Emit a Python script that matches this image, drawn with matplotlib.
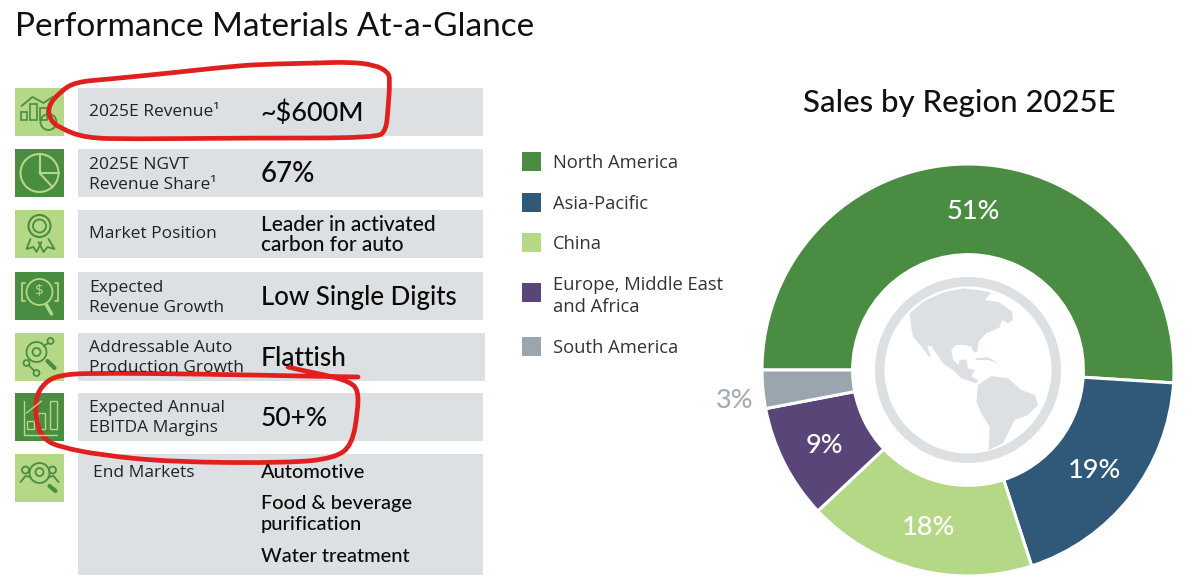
import numpy as np
import matplotlib
matplotlib.use('Agg')
import matplotlib.pyplot as plt
from matplotlib.patches import Rectangle, Circle, Polygon, Wedge, PathPatch
from matplotlib.path import Path

# Donut data
regions = ['North America', 'Asia-Pacific', 'China', 'Europe, Middle East\nand Africa', 'South America']
shares = [51, 19, 18, 9, 3]
colors = ['#4A8D42', '#305878', '#B4D886', '#5A4578', '#9AA5AE']

# Table rows
row_labels = ['2025E Revenue¹', '2025E NGVT\nRevenue Share¹', 'Market Position', 'Expected\nRevenue Growth',
              'Addressable Auto\nProduction Growth', 'Expected Annual\nEBITDA Margins']
row_values = ['~$600M', '67%', 'Leader in activated\ncarbon for auto', 'Low Single Digits', 'Flattish', '50+%']
row_sizes = [19.5, 20, 15, 18.6, 19, 19]
row_tops = [88, 149, 210, 272, 333, 393]
label_shift = [0, 2, 0, 2, 1, 1]
end_markets = ['Automotive', 'Food & beverage\npurification', 'Water treatment']
end_market_y = [472, 514, 557]

GREEN = '#4A8D42'
LIGHT = '#B4D886'
PANEL = '#DDE0E3'
RED = '#E0201F'
LABEL_FONT = 'Open Sans'
VALUE_FONT = 'Lato'

fig = plt.figure(figsize=(12, 5.86), dpi=100)
# overlay axes in pixels of the picture
bg = fig.add_axes([0, 0, 1, 1])
bg.set_xlim(0, 1200)
bg.set_ylim(586, 0)
bg.axis('off')

bg.text(15, 27, 'Performance Materials At-a-Glance', fontsize=24, family=VALUE_FONT, va='center', color='#111111')


def ring(cx, cy, r, col, lw=1.3):
    bg.add_patch(Circle((cx, cy), r, fill=False, ec=col, lw=lw))


def line(xs, ys, col, lw=1.3):
    bg.plot(xs, ys, color=col, lw=lw, solid_capstyle='round')


def draw_icon(i, x, y):
    # x, y = centre of the icon tile
    col = LIGHT if i % 2 == 1 else GREEN
    if i == 0:
        line([x-18, x-7, x+4, x+13], [y-6, y-15, y-9, y-15], col)
        for b0, b1, top in [(-19, -13, 0), (-10, -3, -8), (0, 7, -4)]:
            bg.add_patch(Rectangle((x+b0, y+top), b1-b0, 8-top, fill=False, ec=col, lw=1.2))
        ring(x+9, y+10, 8, col)
    elif i == 1:
        ring(x, y, 19, col, 1.5)
        line([x, x, x+19], [y-19, y, y], col, 1.5)
        line([x, x+13], [y, y+14], col, 1.5)
    elif i == 2:
        ring(x, y-8, 11, col, 1.5)
        ring(x, y-8, 6.5, col)
        line([x-9, x-13, x-6, x-3, x+2], [y+5, y+15, y+13, y+18, y+8], col)
        line([x+9, x+15, x+8, x+4, x-1], [y+5, y+15, y+13, y+18, y+8], col)
    elif i == 3:
        ring(x, y-4, 13, col)
        bg.text(x, y-4, '$', color=col, fontsize=11, ha='center', va='center', family=LABEL_FONT)
        line([x-15, x-18, x-18, x-15], [y-13, y-13, y+5, y+5], col)
        line([x+15, x+18, x+18, x+15], [y-13, y-13, y+5, y+5], col)
        line([x+7, x+12], [y+9, y+18], col, 2.5)
    elif i == 4:
        ring(x-3, y-5, 10, col)
        ring(x-3, y-5, 4, col)
        ring(x+11, y-16, 3, col)
        ring(x-13, y+6, 3, col)
        ring(x-3, y+16, 3, col)
        line([x-11, x-5], [y+8, y+14], col)
        line([x+4, x+9], [y-11, y-14], col)
        line([x+8, x+15], [y+4, y+11], col, 3)
    elif i == 5:
        for b0, b1, top in [(-13, -6, 4), (-2, 5, -4), (10, 17, -16)]:
            bg.add_patch(Rectangle((x+b0, y+top), b1-b0, 12-top, fill=False, ec=col, lw=1))
        line([x-16, x-16, x+17], [y-16, y+18, y+18], col, 1)
        line([x-13, x+2], [y-4, y-16], col, 1)
    else:
        ring(x, y-5, 10, col)
        ring(x, y-6, 4, col)
        ring(x-14, y-8, 3.5, col)
        ring(x+13, y-8, 3.5, col)
        line([x-19, x-14, x-9], [y+4, y-2, y-1], col)
        line([x+19, x+14, x+9], [y+4, y-2, y-1], col)
        line([x+10, x+16], [y+8, y+13], col, 3)


# Rows
for i, top in enumerate(row_tops):
    tile = LIGHT if i % 2 == 0 else GREEN
    right = 485 if i == 4 else 483
    bg.add_patch(Rectangle((15, top), 49, 48, fc=tile, ec='none'))
    bg.add_patch(Rectangle((78, top), right-78, 48, fc=PANEL, ec='none'))
    draw_icon(i, 39.5, top+24)
    bg.text(89, top+24+label_shift[i], row_labels[i], fontsize=12.5, family=LABEL_FONT, va='center', color='#222222', linespacing=1.35)
    bg.text(261, top+25, row_values[i], fontsize=row_sizes[i], family=VALUE_FONT, va='center', color='#0A0A0A',
            weight='medium', linespacing=0.95)

# End markets row is taller
bg.add_patch(Rectangle((15, 454), 49, 48, fc=LIGHT, ec='none'))
bg.add_patch(Rectangle((78, 454), 405, 121, fc=PANEL, ec='none'))
draw_icon(6, 39.5, 478)
bg.text(93, 473, 'End Markets', fontsize=12.5, family=LABEL_FONT, va='center', color='#222222')
for name, y in zip(end_markets, end_market_y):
    bg.text(261, y, name, fontsize=14.4, family=VALUE_FONT, va='center', color='#0A0A0A', weight='medium', linespacing=1.25)

# Legend
legend_y = [163, 204, 244, 296, 348]
for name, col, y in zip(regions, colors, legend_y):
    sq = 292 if name.startswith('Europe') else y - 2
    bg.add_patch(Rectangle((522, sq-9.5), 19, 19, fc=col, ec='none'))
    bg.text(553, y, name, fontsize=13.2, family=LABEL_FONT, va='center', color='#333333', linespacing=1.3)

bg.text(959, 103, 'Sales by Region 2025E', fontsize=22.4, family=VALUE_FONT, weight='medium', ha='center', va='center', color='#111111')

# Donut
cx, cy, R = 968, 370, 206
ax = fig.add_axes([(cx-R)/1200, 1-(cy+R)/586, 2*R/1200, 2*R/586])
wedges, _ = ax.pie(shares, colors=colors, startangle=180, counterclock=False, radius=1,
                   wedgeprops=dict(width=0.44, edgecolor='white', linewidth=2.2))
ax.set_xlim(-1, 1)
ax.set_ylim(-1, 1)
for w, s in zip(wedges, shares):
    mid = np.radians((w.theta1 + w.theta2) / 2)
    small = s < 5
    dist = 1.14 if small else 0.78
    ax.text(dist*np.cos(mid), dist*np.sin(mid) - (0.04 if small else 0.01), f'{s}%', ha='center', va='center',
            fontsize=19.5, family=VALUE_FONT, color='#A5ACB3' if small else 'white', weight='medium')

# Globe in the hole
globe = '#DCE0E3'
bg.set_zorder(ax.get_zorder() + 1)
bg.patch.set_alpha(0)
bg.add_patch(Wedge((cx, cy), 93, 0, 360, width=9.5, fc=globe, ec='none'))


def crop_pts(pts):
    return [(868 + px/3, 270 + py/3) for px, py in pts]


north = [(125, 130), (170, 92), (225, 68), (285, 55), (330, 60), (370, 68), (350, 90), (395, 97), (432, 125),
         (435, 150), (420, 160), (402, 150), (395, 172), (355, 190), (332, 215), (328, 245), (318, 248), (310, 230),
         (290, 225), (265, 225), (250, 240), (255, 270), (272, 285), (275, 270), (295, 268), (300, 295), (320, 300),
         (310, 320), (330, 330), (325, 340), (280, 325), (255, 300), (225, 280), (205, 250), (190, 228), (178, 228),
         (188, 258), (183, 262), (165, 235), (135, 200), (130, 175)]
south = [(330, 345), (370, 318), (420, 325), (460, 360), (500, 375), (510, 405), (480, 435), (440, 450), (405, 520),
         (362, 540), (365, 470), (340, 430), (325, 395)]
cuba = [(322, 265), (360, 262), (392, 280), (360, 270), (325, 270)]
for land in (north, south, cuba):
    bg.add_patch(Polygon(crop_pts(land), fc=globe, ec='none', joinstyle='round'))

# Red marker scribbles
scribble_top = [(316, 63), (268, 64), (235, 66), (170, 73), (110, 79), (75, 82), (60, 92), (48, 106), (50, 120),
                (60, 128), (85, 138), (130, 139), (250, 138), (377, 138), (386, 130), (388, 110), (390, 80),
                (388, 72), (375, 65), (350, 62), (316, 63)]
scribble_low = [(358, 377), (300, 376), (200, 374), (90, 373), (60, 375), (45, 382), (35, 398), (37, 427),
                (45, 440), (60, 447), (100, 455), (170, 462), (290, 463), (335, 458), (352, 445), (358, 410),
                (358, 390), (350, 382), (330, 376), (305, 371), (288, 367)]
for pts in (scribble_top, scribble_low):
    # quadratic curve through the midpoints so the pen stroke has no corners
    verts = [pts[0]]
    codes = [Path.MOVETO]
    for a, b in zip(pts[1:-1], pts[2:]):
        verts += [a, ((a[0]+b[0])/2, (a[1]+b[1])/2)]
        codes += [Path.CURVE3, Path.CURVE3]
    verts.append(pts[-1])
    codes.append(Path.LINETO)
    bg.add_patch(PathPatch(Path(verts, codes), fill=False, ec=RED, lw=3.4, capstyle='round', joinstyle='round'))

fig.savefig('out.png', dpi=100)
